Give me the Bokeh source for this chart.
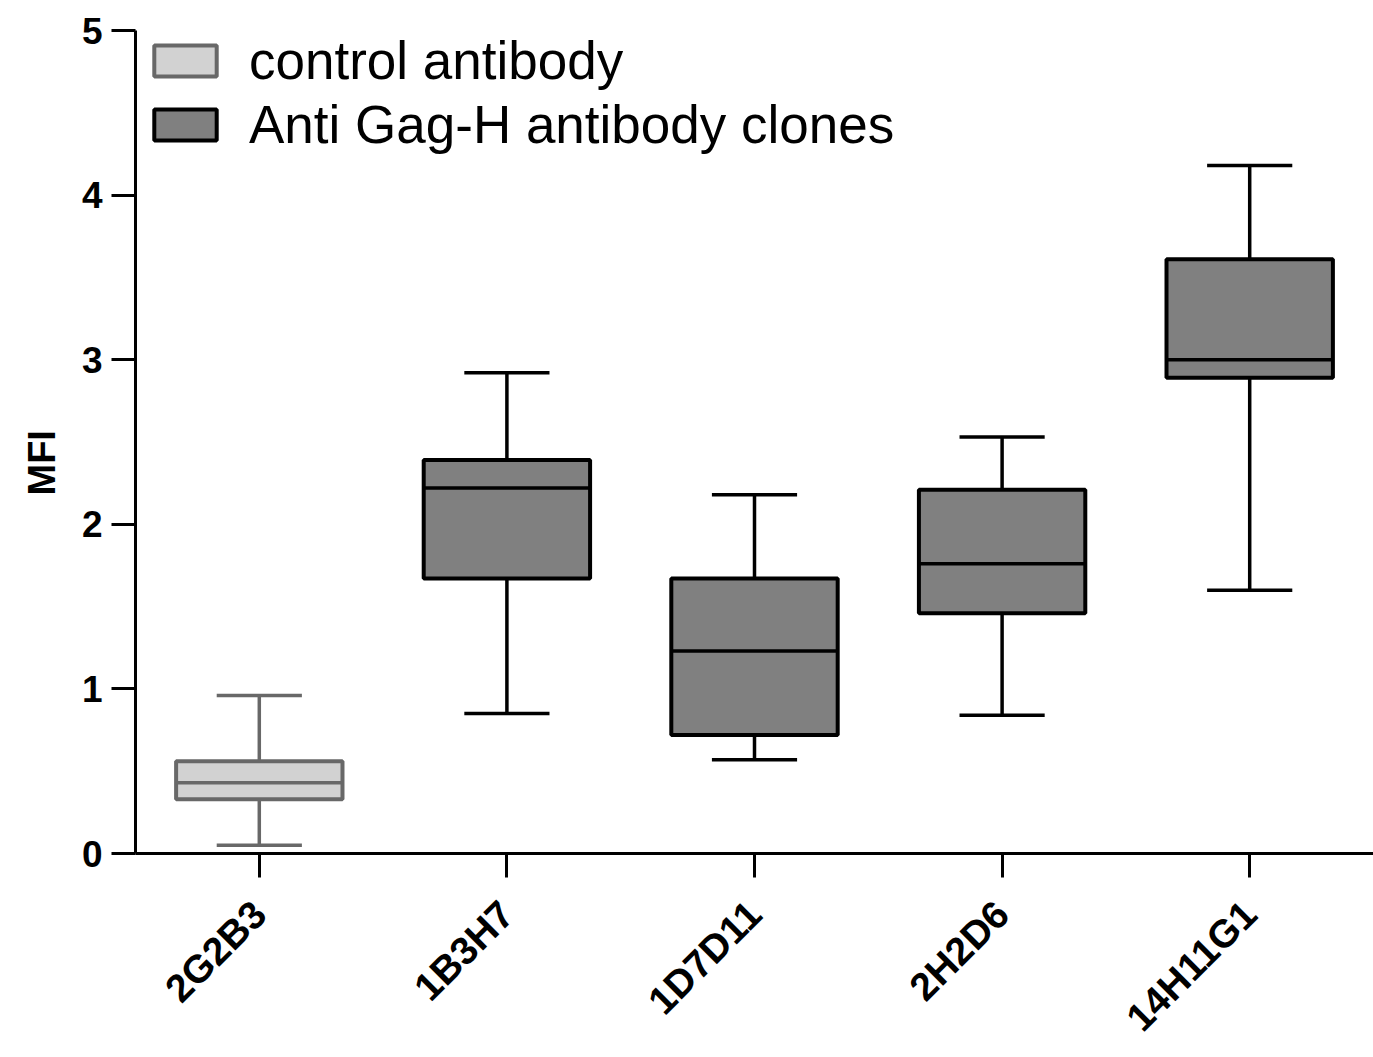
import math
from bokeh.plotting import figure
from bokeh.models import ColumnDataSource, FactorRange, Range1d, Legend, LegendItem, Title
from bokeh.transform import dodge
from bokeh.embed import file_html
from bokeh.resources import INLINE

# ---- data ----
categories = ["2G2B3", "1B3H7", "1D7D11", "2H2D6", "14H11G1"]
whisker_low = [0.05, 0.85, 0.57, 0.84, 1.60]
q1 = [0.33, 1.67, 0.72, 1.46, 2.89]
median = [0.43, 2.22, 1.23, 1.76, 3.00]
q3 = [0.56, 2.39, 1.67, 2.21, 3.61]
whisker_high = [0.96, 2.92, 2.18, 2.53, 4.18]
group_labels = ["control antibody", "Anti Gag-H antibody clones"]
group_of = [0, 1, 1, 1, 1]
y_ticks = [0, 1, 2, 3, 4, 5]
y_title = "MFI"

FONT = "Liberation Sans"

p = figure(width=1373, height=1057,
           x_range=FactorRange(factors=categories, range_padding=0),
           y_range=Range1d(0, 5),
           output_backend="svg", toolbar_location=None,
           min_border_left=135, min_border_right=0,
           min_border_top=30, min_border_bottom=204)
p.outline_line_color = None
p.xgrid.visible = False
p.ygrid.visible = False
p.background_fill_color = "white"
p.border_fill_color = "white"

styles = [
    dict(fill="#d2d2d2", line="#686868"),
    dict(fill="#808080", line="#000000"),
]

box_renderers = []
for g in range(2):
    idx = [i for i in range(len(categories)) if group_of[i] == g]
    src = ColumnDataSource(dict(
        cat=[categories[i] for i in idx],
        lo=[whisker_low[i] for i in idx],
        q1=[q1[i] for i in idx],
        med=[median[i] for i in idx],
        q3=[q3[i] for i in idx],
        hi=[whisker_high[i] for i in idx],
    ))
    lc = styles[g]["line"]
    # whisker stems
    p.segment(x0="cat", y0="q3", x1="cat", y1="hi", source=src, line_color=lc, line_width=3.5)
    p.segment(x0="cat", y0="q1", x1="cat", y1="lo", source=src, line_color=lc, line_width=3.5)
    # caps
    p.segment(x0=dodge("cat", -0.172, range=p.x_range), y0="hi",
              x1=dodge("cat", 0.172, range=p.x_range), y1="hi",
              source=src, line_color=lc, line_width=3.5)
    p.segment(x0=dodge("cat", -0.172, range=p.x_range), y0="lo",
              x1=dodge("cat", 0.172, range=p.x_range), y1="lo",
              source=src, line_color=lc, line_width=3.5)
    # boxes
    r = p.vbar(x="cat", width=0.672, top="q3", bottom="q1", source=src,
               fill_color=styles[g]["fill"], line_color=lc, line_width=4)
    box_renderers.append(r)
    # medians
    p.segment(x0=dodge("cat", -0.336, range=p.x_range), y0="med",
              x1=dodge("cat", 0.336, range=p.x_range), y1="med",
              source=src, line_color=lc, line_width=3.5)

# axes
for ax in (p.xaxis[0], p.yaxis[0]):
    ax.axis_line_width = 3
    ax.axis_line_color = "black"
    ax.major_tick_line_width = 3
    ax.major_tick_line_color = "black"
    ax.major_tick_out = 24
    ax.major_tick_in = 0
    ax.minor_tick_line_color = None
    ax.major_label_text_font = FONT
    ax.major_label_text_font_style = "bold"
    ax.major_label_text_color = "black"

p.yaxis.ticker = y_ticks
p.yaxis.major_label_text_font_size = "37px"
p.yaxis.major_label_standoff = 9

p.xaxis.major_label_text_font_size = "39px"
p.xaxis.major_label_orientation = math.pi / 4
p.xaxis.major_label_standoff = 30

# y-axis title as a side title (slightly below the frame centre, as in the reference)
p.add_layout(Title(text=y_title, align="left", offset=358, standoff=28,
                   vertical_align="top",
                   text_font=FONT, text_font_style="bold",
                   text_font_size="38px", text_color="black"), "left")

legend = Legend(items=[LegendItem(label=group_labels[0], renderers=[box_renderers[0]]),
                       LegendItem(label=group_labels[1], renderers=[box_renderers[1]])],
                location=(11, 698),
                glyph_width=78, glyph_height=39, label_height=39,
                label_standoff=25, padding=0, margin=0, spacing=3,
                border_line_color=None, background_fill_alpha=0,
                label_text_font=FONT, label_text_font_size="53px",
                label_text_color="black")
p.add_layout(legend)

open("out.html", "w").write(file_html(p, INLINE))
